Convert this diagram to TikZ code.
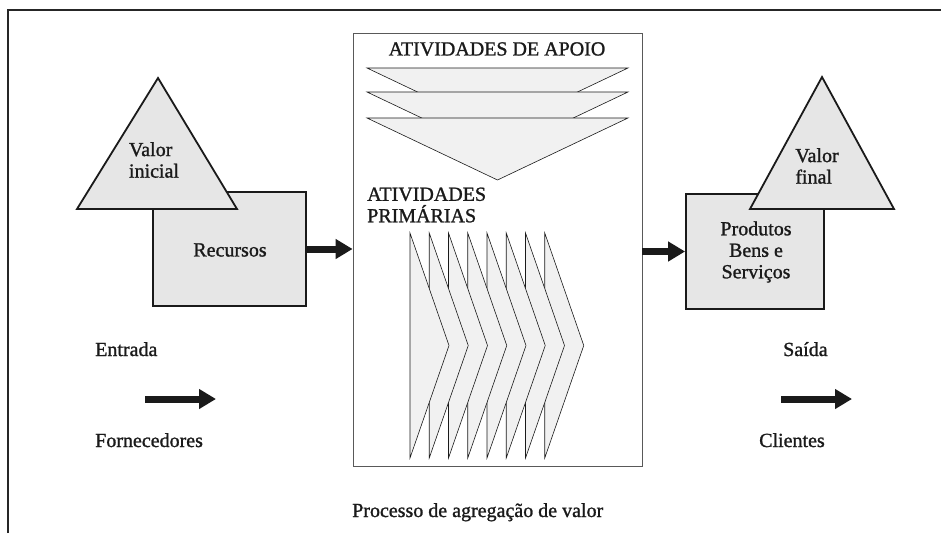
\documentclass[tikz,border=0pt]{standalone}
\usepackage{fontspec}
\setmainfont{Liberation Serif}[FakeBold=1.2]
\usetikzlibrary{arrows.meta,calc}
\definecolor{boxfill}{HTML}{E6E6E6}
\definecolor{chevfill}{HTML}{F1F1F1}
\definecolor{ink}{HTML}{1A1A1A}
\tikzset{
  lbl/.style={font=\fontsize{20}{21.5}\selectfont, inner sep=0pt, text=ink},
  graybox/.style={draw=ink, line width=1.8pt, fill=boxfill, inner sep=0pt},
  valtri/.style={draw=ink, line width=1.8pt, fill=boxfill, line join=miter},
  thinshape/.style={draw=ink, line width=0.6pt, fill=chevfill, line join=miter},
  bigarrow/.style={draw=ink, line width=7pt, -{Triangle[length=17pt,width=19pt]}},
}
\begin{document}
\begin{tikzpicture}[x=1pt,y=-1pt]
\useasboundingbox (0,0) rectangle (941,533);
% outer frame
\draw[draw=black!85, line width=1.8pt] (8,533) -- (8,10) -- (941,10);

% central process box
\node[draw=black!65, line width=0.8pt, minimum width=289pt, minimum height=433pt, inner sep=0pt] (proc) at (497.5,249.5) {};
\node[lbl] (apoio) at (497,49) {ATIVIDADES DE APOIO};
% support activities
\foreach \t in {68,92,118}{
  \draw[thinshape] (367,\t) -- (628,\t) -- (497.5,\t+62) -- cycle;
}
\node[lbl, anchor=west, align=left] (prim) at (367,205) {ATIVIDADES\\PRIMÁRIAS};
% primary activities (drawn right to left)
\foreach \i in {7,6,...,0}{
  \pgfmathsetmacro{\xx}{410+19.25*\i}
  \draw[thinshape] (\xx,233) -- (\xx+39,345.5) -- (\xx,458) -- cycle;
}

% left: resources + initial value
\node[graybox, minimum width=153pt, minimum height=114pt] (rec) at (229.5,249) {};
\node[lbl] (rectxt) at (230,250) {Recursos};
\draw[valtri] (77,209) -- (158,78) -- (237,209) -- cycle;
\node[lbl, align=left] (vi) at (154,160) {Valor\\inicial};

% right: products + final value
\node[graybox, minimum width=138pt, minimum height=115pt] (prod) at (755,251.5) {};
\node[lbl, align=center] (prodtxt) at (756,252) {Produtos\\Bens e\\Serviços};
\draw[valtri] (750,209) -- (822,77) -- (894,209) -- cycle;
\node[lbl, align=left] (vf) at (817,166) {Valor\\final};

% connectors
\draw[bigarrow] (rec.east) -- (rec.east -| proc.west);
\draw[bigarrow] (prod.west -| proc.east) -- (prod.west);

% entrada / saida
\node[lbl, anchor=base west] (ent) at (95,356) {Entrada};
\node[lbl, anchor=base west] (forn) at (95,447) {Fornecedores};
\coordinate (ea) at (145,399);
\coordinate (eb) at (216,399);
\draw[bigarrow] (ea) -- (eb);
\node[lbl, anchor=base west] (sai) at (783,356) {Saída};
\node[lbl, anchor=base west] (cli) at (759,447) {Clientes};
\coordinate (sa) at (781,399);
\coordinate (sb) at (852,399);
\draw[bigarrow] (sa) -- (sb);

\node[lbl, anchor=base west] (proctxt) at (352,517) {Processo de agregação de valor};
\end{tikzpicture}
\end{document}
